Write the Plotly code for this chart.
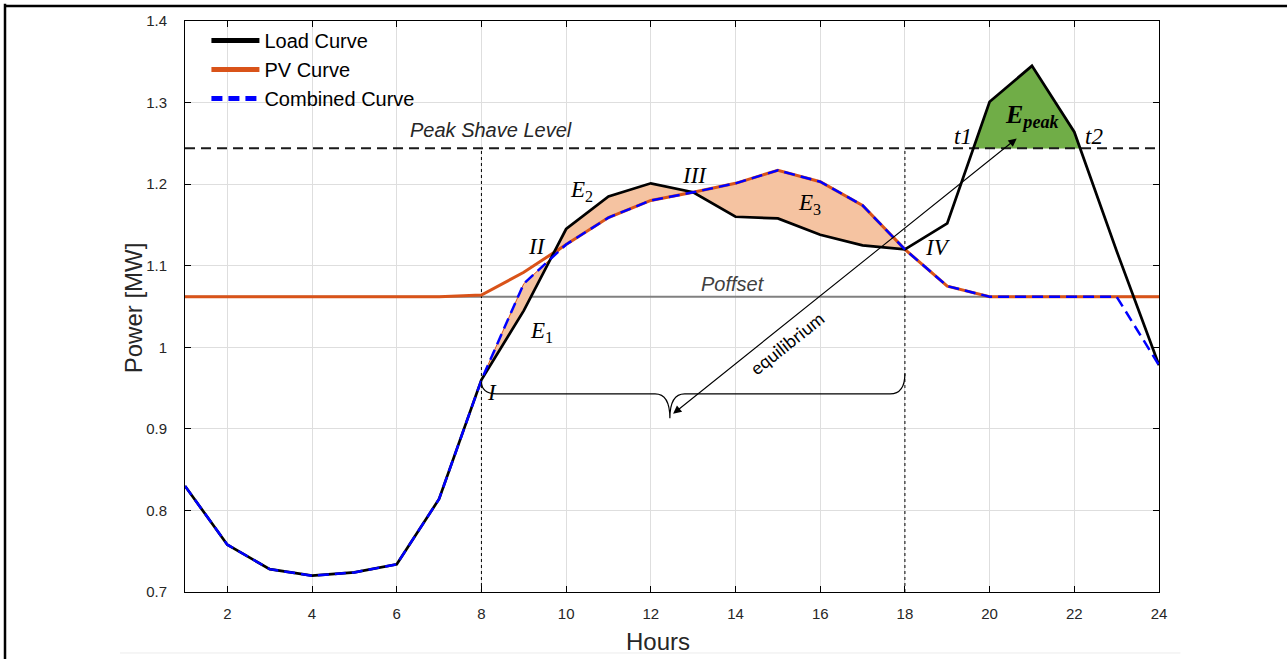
import plotly.graph_objects as go

# ---- data -------------------------------------------------------------
hours = list(range(1, 25))
load = [0.830, 0.758, 0.728, 0.720, 0.724, 0.734, 0.814, 0.960, 1.045, 1.145,
        1.185, 1.201, 1.190, 1.160, 1.158, 1.138, 1.125, 1.120, 1.152, 1.301,
        1.345, 1.264, 1.118, 0.978]
pv = [1.062, 1.062, 1.062, 1.062, 1.062, 1.062, 1.062, 1.064, 1.092, 1.126,
      1.159, 1.180, 1.190, 1.201, 1.217, 1.203, 1.174, 1.120, 1.075, 1.062,
      1.062, 1.062, 1.062, 1.062]
combined = [0.830, 0.758, 0.728, 0.720, 0.724, 0.734, 0.814, 0.960, 1.078, 1.126,
            1.159, 1.180, 1.190, 1.201, 1.217, 1.203, 1.174, 1.120, 1.075, 1.062,
            1.062, 1.062, 1.062, 0.978]
peak_shave_level = 1.244
p_offset = 1.062
window_start, window_end = 8, 18

BLACK = "#000000"
ORANGE = "#D95319"
BLUE = "#0000FF"
TXT = "#262626"
SERIF = "Liberation Serif, DejaVu Serif, serif"
SANS = "Liberation Sans, Arial, sans-serif"

fig = go.Figure()

# Poffset reference line
fig.add_trace(go.Scatter(x=[hours[0], hours[-1]], y=[p_offset, p_offset], mode="lines",
                         line=dict(color="#808080", width=2), showlegend=False, hoverinfo="skip"))

# Energy exchanged between load and combined curve inside the window (E1, E2, E3)
i0, i1 = hours.index(window_start), hours.index(window_end)
fx = hours[i0:i1 + 1] + hours[i0:i1 + 1][::-1]
fy = load[i0:i1 + 1] + combined[i0:i1 + 1][::-1]
fig.add_trace(go.Scatter(x=fx, y=fy, mode="lines", fill="toself", fillcolor="#F5C3A1",
                         line=dict(color=ORANGE, width=1), showlegend=False, hoverinfo="skip"))

# Peak energy above the shave level (E_peak)
px, py = [], []
for k in range(len(hours) - 1):
    a, b = load[k], load[k + 1]
    if a >= peak_shave_level:
        px.append(hours[k]); py.append(a)
    if (a - peak_shave_level) * (b - peak_shave_level) < 0:
        t = hours[k] + (peak_shave_level - a) / (b - a)
        px.append(t); py.append(peak_shave_level)
fig.add_trace(go.Scatter(x=px + [px[0]], y=py + [py[0]], mode="lines", fill="toself",
                         fillcolor="#70AD47", line=dict(color="#70AD47", width=0.5),
                         showlegend=False, hoverinfo="skip"))

# window boundaries
for xv in (window_start, window_end):
    fig.add_trace(go.Scatter(x=[xv, xv], y=[0.7, peak_shave_level], mode="lines",
                             line=dict(color=BLACK, width=1, dash="3px,3px"),
                             showlegend=False, hoverinfo="skip"))

# peak shave level
fig.add_trace(go.Scatter(x=[hours[0], hours[-1]], y=[peak_shave_level] * 2, mode="lines",
                         line=dict(color="#1a1a1a", width=2, dash="10px,6px"),
                         showlegend=False, hoverinfo="skip"))

# curves
fig.add_trace(go.Scatter(x=hours, y=pv, mode="lines", line=dict(color=ORANGE, width=3),
                         showlegend=False))
fig.add_trace(go.Scatter(x=hours, y=load, mode="lines", line=dict(color=BLACK, width=2.7),
                         showlegend=False))
fig.add_trace(go.Scatter(x=hours, y=combined, mode="lines",
                         line=dict(color=BLUE, width=2.5, dash="11px,6px"), showlegend=False))

# legend entries
for name, col, dash, grp in (("Load Curve", BLACK, "solid", "a"),
                             ("PV Curve", ORANGE, "solid", "b"),
                             ("Combined Curve", BLUE, "11px,6px", "c")):
    fig.add_trace(go.Scatter(x=[None], y=[None], mode="lines", name=name, legendgroup=grp,
                             line=dict(color=col, width=5, dash=dash)))

# curly brace under the equilibrium window
bx0, bx1, btip = window_start, window_end, 12.45
by_end, by_mid, by_tip = 0.958, 0.943, 0.913
rx = 0.35
brace = (f"M {bx0},{by_end} Q {bx0},{by_mid} {bx0 + rx},{by_mid} "
         f"L {btip - rx},{by_mid} Q {btip},{by_mid} {btip},{by_tip} "
         f"Q {btip},{by_mid} {btip + rx},{by_mid} "
         f"L {bx1 - rx},{by_mid} Q {bx1},{by_mid} {bx1},{by_end + 0.01}")
shapes = [dict(type="path", path=brace, xref="x", yref="y",
               line=dict(color=BLACK, width=1.2))]

# frame around the figure
shapes += [
    dict(type="line", xref="paper", yref="paper", x0=-0.1848, x1=-0.1848, y0=-0.2, y1=1.03,
         line=dict(color=BLACK, width=2.5)),
    dict(type="line", xref="paper", yref="paper", x0=-0.1848, x1=1.14, y0=1.0263, y1=1.0263,
         line=dict(color=BLACK, width=2.5)),
    dict(type="line", xref="paper", yref="paper", x0=-0.0667, x1=1.022, y0=-0.1068, y1=-0.1068,
         line=dict(color="#ececec", width=1)),
]

ann = []


def label(x, y, text, size=23, family=SERIF, color=BLACK, **kw):
    ann.append(dict(x=x, y=y, xref="x", yref="y", text=text, showarrow=False,
                    xanchor="center", yanchor="middle",
                    font=dict(family=family, size=size, color=color), **kw))


label(8.23, 1.266, "<i>Peak Shave Level</i>", size=20, family=SANS, color=TXT)
label(13.94, 1.078, "<i>Poffset</i>", size=20, family=SANS, color="#404040")
label(8.25, 0.944, "<i>I</i>")
label(9.31, 1.124, "<i>II</i>")
label(13.04, 1.211, "<i>III</i>")
label(18.78, 1.122, "<i>IV</i>")
label(9.42, 1.019, "<i>E</i><sub>1</sub>")
label(10.37, 1.191, "<i>E</i><sub>2</sub>")
label(15.74, 1.176, "<i>E</i><sub>3</sub>")
label(19.36, 1.258, "<i>t1</i>")
label(22.47, 1.258, "<i>t2</i>")
label(21.0, 1.283, "<b><i>E</i><sub><i>peak</i></sub></b>", size=26)
label(15.22, 1.005, "equilibrium", size=18, family="Lato, Open Sans, sans-serif", textangle=-38.5)

# double headed arrow linking the window to the peak energy
ann.append(dict(x=20.64, y=1.256, ax=12.49, ay=0.917, xref="x", yref="y", axref="x", ayref="y",
                text="", showarrow=True, arrowhead=2, startarrowhead=2, arrowside="end+start",
                arrowsize=1.5, startarrowsize=1.5, arrowwidth=1.1, arrowcolor=BLACK,
                standoff=0, startstandoff=0))

# axis titles
ann.append(dict(x=12.17, y=-0.086, xref="x", yref="paper", text="Hours", showarrow=False,
                xanchor="center", yanchor="middle",
                font=dict(family=SANS, size=24, color=TXT)))
ann.append(dict(x=-0.0534, y=1.049, xref="paper", yref="y", text="Power [MW]", showarrow=False,
                xanchor="center", yanchor="middle", textangle=-90,
                font=dict(family=SANS, size=24, color=TXT)))

fig.update_layout(
    width=1287, height=659,
    margin=dict(l=185, r=128, t=21, b=67),
    paper_bgcolor="white", plot_bgcolor="white",
    shapes=shapes, annotations=ann,
    legend=dict(x=0.022, y=1.0, xanchor="left", yanchor="top", bgcolor="rgba(0,0,0,0)",
                font=dict(family=SANS, size=20, color=BLACK), tracegroupgap=0,
                itemwidth=48),
    showlegend=True,
)
axis_common = dict(showline=True, linecolor=BLACK, linewidth=1, mirror="ticks",
                   ticks="inside", ticklen=6, tickcolor=BLACK, showgrid=True,
                   gridcolor="#dedede", gridwidth=1, zeroline=False,
                   tickfont=dict(family=SANS, size=15, color=TXT))
fig.update_xaxes(range=[1, 24], tick0=0, dtick=2, ticklabelstandoff=8, **axis_common)
fig.update_yaxes(range=[0.7, 1.4], tick0=0.7, dtick=0.1, ticklabelstandoff=14, **axis_common)

fig.write_html("out.html")
